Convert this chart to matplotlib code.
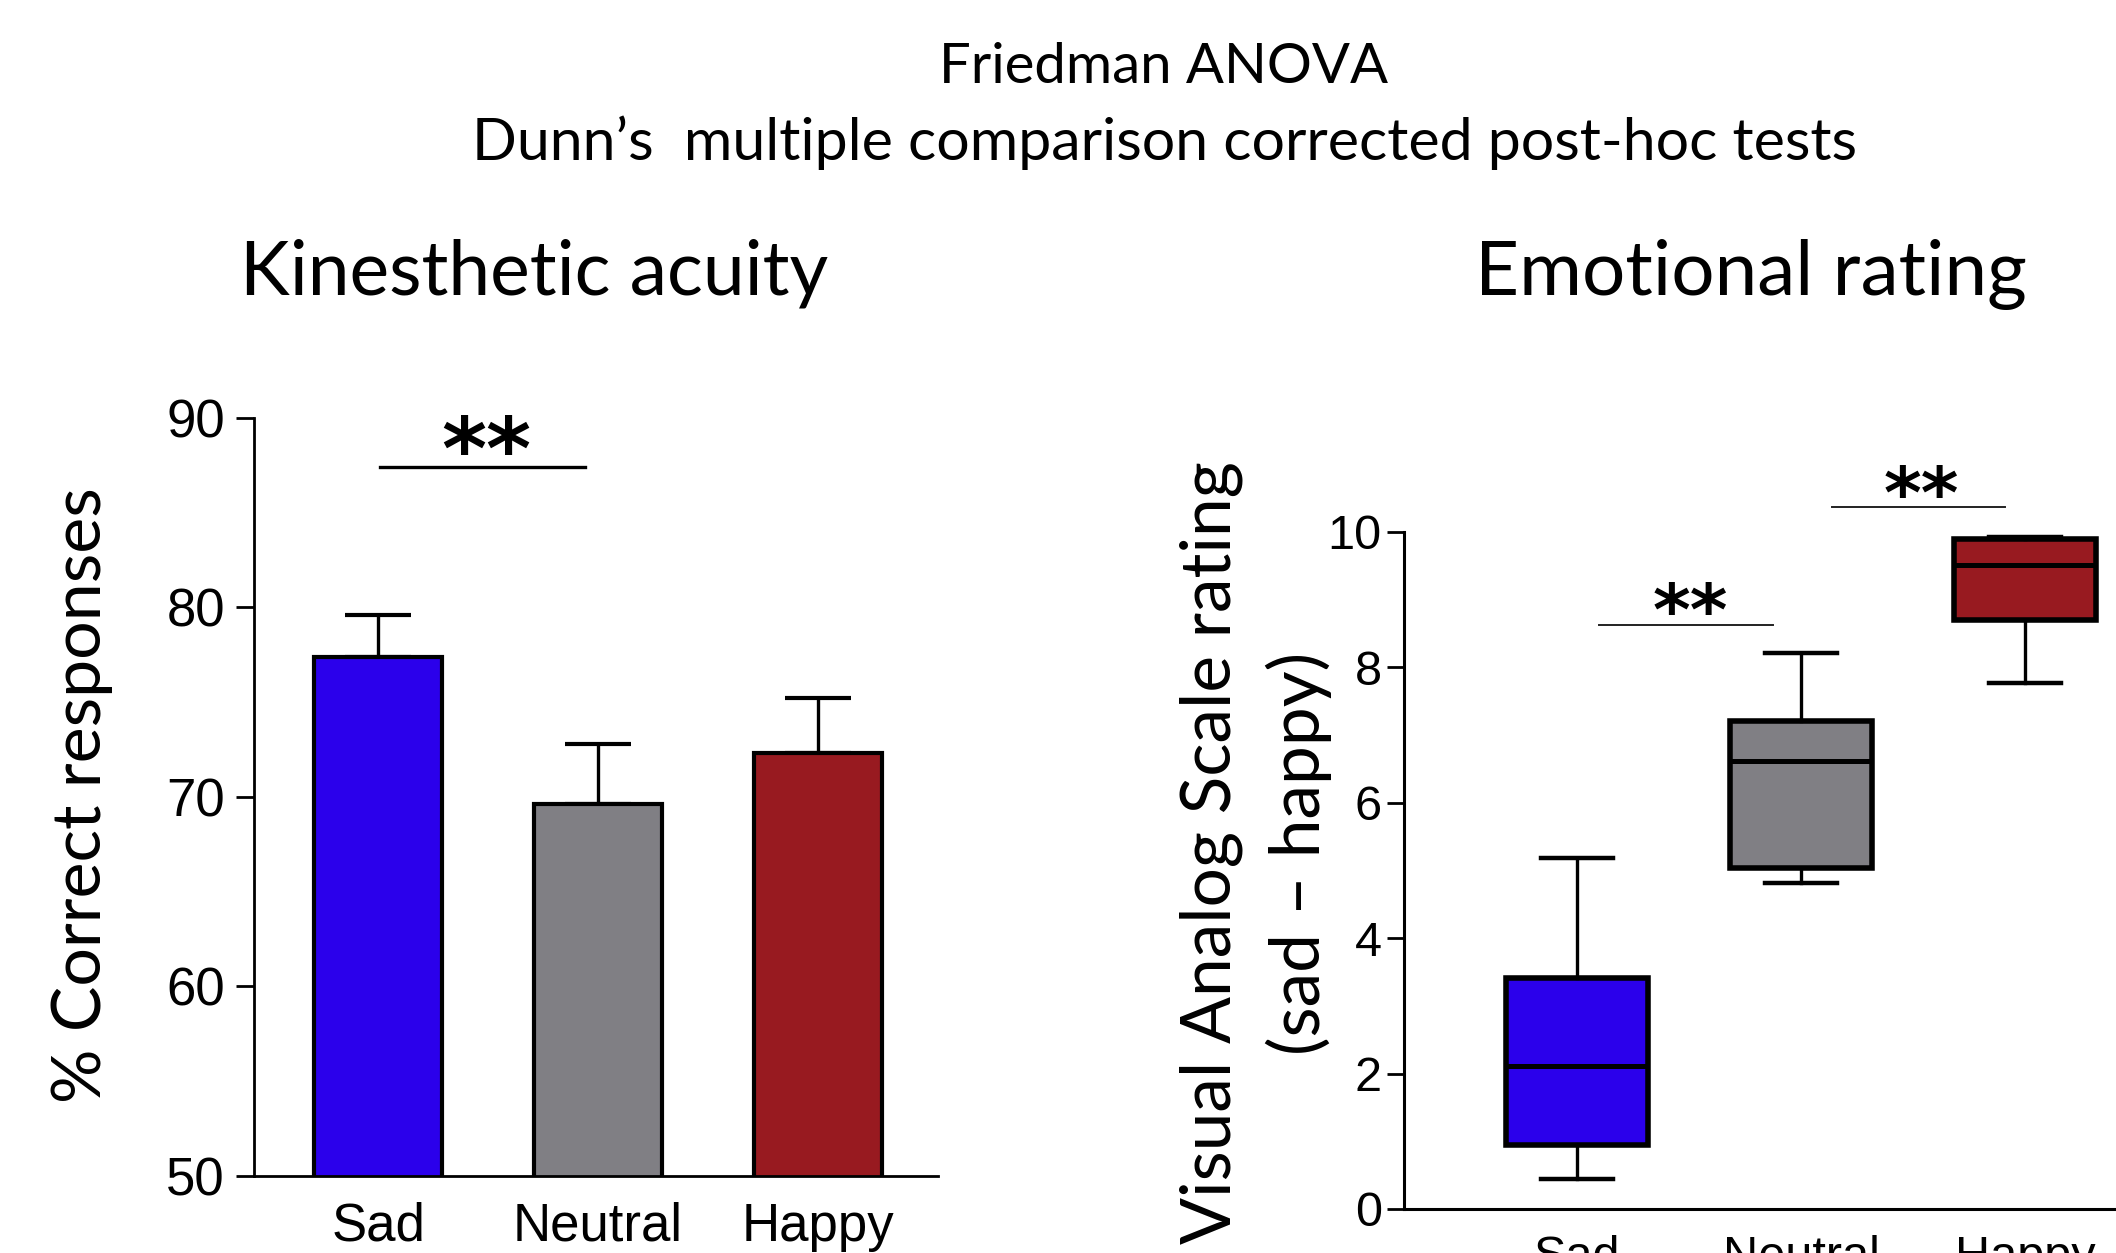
import numpy as np
import matplotlib
matplotlib.use("Agg")
import matplotlib.pyplot as plt

## Data ##
conditions = ["Sad", "Neutral", "Happy"]
colors = ["#2B00EB", "#807F84", "#981A20"]

# kinesthetic acuity: mean % correct and upper error (SEM)
acuity_mean = [77.4, 69.6, 72.3]
acuity_err = [2.2, 3.2, 2.9]

# emotional rating (VAS): box plot stats per condition
vas_whislo = [0.44, 4.82, 7.77]
vas_q1 = [0.94, 5.03, 8.70]
vas_med = [2.11, 6.61, 9.51]
vas_q3 = [3.41, 7.21, 9.90]
vas_whishi = [5.18, 8.21, 9.93]

W, H = 2116, 1253
tick_font = "Liberation Sans"
text_font = "Lato"
star_font = "DejaVu Sans"

fig = plt.figure(figsize=(W / 100, H / 100), dpi=100)

def px_axes(x0, y0, x1, y1):
    # axes rectangle from pixel corners (top-left origin)
    return fig.add_axes([x0 / W, 1 - y1 / H, (x1 - x0) / W, (y1 - y0) / H])

# ---- left panel: bars ----
ax1 = px_axes(254, 418, 938, 1175.5)
pos = np.arange(len(conditions))
ax1.bar(pos, acuity_mean, width=0.58, color=colors, edgecolor="black", linewidth=3.0, zorder=2)
ax1.errorbar(pos, acuity_mean, yerr=[np.zeros(3), acuity_err], fmt="none", ecolor="black",
             elinewidth=2.4, capsize=24, capthick=3.0, zorder=1)
ax1.set_ylim(50, 90)
ax1.set_xlim(-0.564, 2.545)
ax1.set_yticks([50, 60, 70, 80, 90])
ax1.set_xticks(pos)
ax1.set_xticklabels(conditions)
ax1.tick_params(axis="y", length=13, width=2, pad=8, labelsize=38)
ax1.tick_params(axis="x", length=0, pad=19, labelsize=38)
for lab in ax1.get_xticklabels() + ax1.get_yticklabels():
    lab.set_family(tick_font)
for s in ["top", "right"]:
    ax1.spines[s].set_visible(False)
for s in ["left", "bottom"]:
    ax1.spines[s].set_linewidth(2)
ax1.set_ylabel("% Correct responses", family=text_font, fontsize=49, va="center")
ax1.yaxis.set_label_coords(-0.252, 0.5015)

ax1.plot([0.01, 0.94], [87.4, 87.4], color="black", lw=2.4, clip_on=False)
ax1.text(0.49, 86.8, "**", ha="center", va="baseline", fontsize=62, fontweight="bold",
         family=star_font, clip_on=False)

# ---- right panel: box plots ----
ax2 = px_axes(1404, 531.8, 2116, 1209)
stats = []
for i, name in enumerate(conditions):
    stats.append({"label": name, "whislo": vas_whislo[i], "q1": vas_q1[i], "med": vas_med[i],
                  "q3": vas_q3[i], "whishi": vas_whishi[i]})
bp = ax2.bxp(stats, positions=pos, widths=0.63, capwidths=0.32, patch_artist=True,
             showfliers=False,
             boxprops=dict(linewidth=4.0, edgecolor="black"),
             medianprops=dict(color="black", linewidth=3.6),
             whiskerprops=dict(color="black", linewidth=2.4),
             capprops=dict(color="black", linewidth=3.2))
for patch, c in zip(bp["boxes"], colors):
    patch.set_facecolor(c)
ax2.set_ylim(0, 10)
ax2.set_xlim(-0.772, 2.406)
ax2.set_yticks([0, 2, 4, 6, 8, 10])
ax2.tick_params(axis="y", length=12, width=2, pad=4, labelsize=35)
ax2.tick_params(axis="x", length=0, pad=19, labelsize=35)
for lab in ax2.get_xticklabels() + ax2.get_yticklabels():
    lab.set_family(tick_font)
for s in ["top", "right"]:
    ax2.spines[s].set_visible(False)
for s in ["left", "bottom"]:
    ax2.spines[s].set_linewidth(2.2)
ax2.set_ylabel("Visual Analog Scale rating\n(sad \u2013 happy)", family=text_font, fontsize=50,
               va="center", linespacing=1.42)
ax2.yaxis.set_label_coords(-0.2086, 0.5257)

ax2.plot([0.10, 0.873], [8.62, 8.62], color="#222222", lw=1.4, clip_on=False)
ax2.text(0.505, 8.47, "**", ha="center", va="baseline", fontsize=52, fontweight="bold",
         family=star_font, clip_on=False)
ax2.plot([1.14, 1.91], [10.36, 10.36], color="#222222", lw=1.4, clip_on=False)
ax2.text(1.535, 10.21, "**", ha="center", va="baseline", fontsize=52, fontweight="bold",
         family=star_font, clip_on=False)

# ---- titles ----
fig.text(1164 / W, 1 - 83 / H, "Friedman ANOVA", ha="center", va="baseline",
         family=text_font, fontsize=40.5)
fig.text(1164 / W, 1 - 160 / H, "Dunn\u2019s  multiple comparison corrected post-hoc tests",
         ha="center", va="baseline", family=text_font, fontsize=42.5)
fig.text(534 / W, 1 - 295 / H, "Kinesthetic acuity", ha="center", va="baseline",
         family=text_font, fontsize=54)
fig.text(1751 / W, 1 - 295 / H, "Emotional rating", ha="center", va="baseline",
         family=text_font, fontsize=55)

fig.savefig("out.png", dpi=100)
